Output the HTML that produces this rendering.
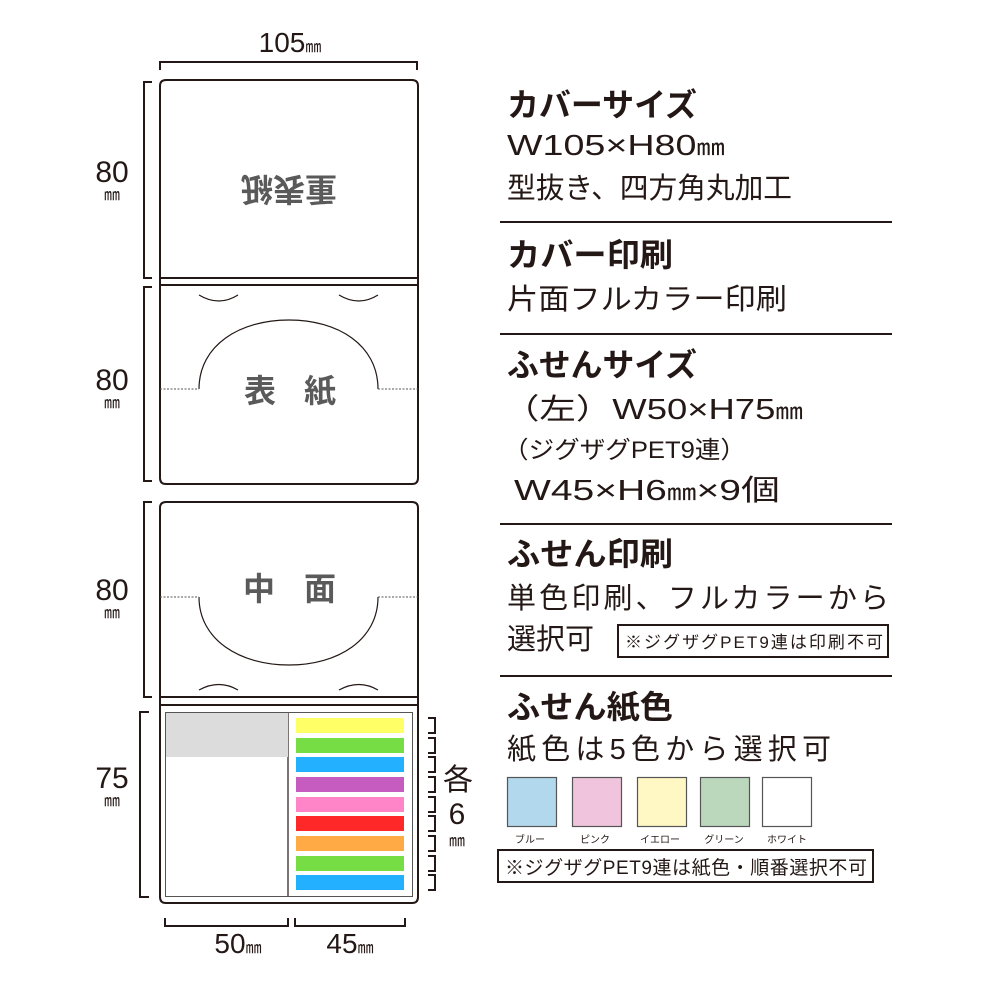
<!DOCTYPE html>
<html><head><meta charset="utf-8"><style>
html,body{margin:0;padding:0;background:#fff}
svg{display:block}
text{font-family:"Liberation Sans","Noto Sans CJK JP",sans-serif;fill:#231815}
.h{font-size:32px;font-weight:bold}
.b{font-size:29px}
.g{fill:#5a5a5a;font-weight:bold;font-size:32px}
</style></head><body>
<svg width="1000" height="1000" viewBox="0 0 1000 1000" xmlns="http://www.w3.org/2000/svg">
<g fill="none" stroke="#231815" stroke-width="2">
<path d="M160 70 V62 H417 V70"/>
<path d="M160 278 V86 Q160 80 166 80 H412 Q418 80 418 86 V278"/>
<path d="M160 278 H418 M160 285 H418"/>
<path d="M160 278 V478 Q160 484 166 484 H412 Q418 484 418 478 V278"/>
<path d="M160 697 V508 Q160 502 166 502 H412 Q418 502 418 508 V697"/>
<path d="M160 697 H418 M160 705 H418"/>
<path d="M160 697 V897 Q160 903 166 903 H412 Q418 903 418 897 V697"/>
<path d="M152 82 H144 V278 H152"/>
<path d="M152 287 H144 V481 H152"/>
<path d="M152 502 H144 V697 H152"/>
<path d="M149 712 H140 V897 H149"/>
<path d="M165 918 V926 H288 V918"/>
<path d="M295 918 V926 H405 V918"/>
</g>
<g fill="none" stroke="#231815" stroke-width="1.2">
<path d="M199 295 Q219 307 238 295"/><path d="M339 295 Q359 307 378 295"/>
<path d="M199 389 C199 345 240 320 289 320 C338 320 378 345 378 389"/>
<path d="M199 597 C199 640 240 665 289 665 C338 665 378 640 378 597"/>
<path d="M199 690 Q219 679 238 690"/><path d="M339 690 Q359 679 378 690"/>
<path d="M288 713 V896"/>
</g>
<g stroke="#555" stroke-width="1" stroke-dasharray="2,1.5">
<path d="M160 389 H199 M378 389 H418 M160 597 H199 M378 597 H418"/>
</g>
<rect x="165.5" y="712.5" width="247" height="184" fill="none" stroke="#555" stroke-width="1"/>
<rect x="166" y="713" width="122" height="44" fill="#dcdcdc"/>
<g>
<rect x="296" y="718" width="108" height="15" fill="#ffff66"/>
<rect x="296" y="738" width="108" height="15" fill="#77dd44"/>
<rect x="296" y="757" width="108" height="15" fill="#22b0ff"/>
<rect x="296" y="777" width="108" height="15" fill="#c65cc0"/>
<rect x="296" y="797" width="108" height="15" fill="#ff84c8"/>
<rect x="296" y="816" width="108" height="15" fill="#ff2828"/>
<rect x="296" y="836" width="108" height="15" fill="#ffaa44"/>
<rect x="296" y="856" width="108" height="15" fill="#77dd44"/>
<rect x="296" y="875" width="108" height="15" fill="#22b0ff"/>
</g>
<g fill="none" stroke="#231815" stroke-width="2">
<path d="M428 718 H435 V733 H428 M428 738 H435 V753 H428 M428 757 H435 V772 H428 M428 777 H435 V792 H428 M428 797 H435 V812 H428 M428 816 H435 V831 H428 M428 836 H435 V851 H428 M428 856 H435 V871 H428 M428 875 H435 V890 H428"/>
</g>
<text class="g" x="289" y="178" text-anchor="middle" transform="rotate(180 289 178)">重表紙</text>
<text class="g" x="260" y="402" text-anchor="middle">表</text>
<text class="g" x="320" y="402" text-anchor="middle">紙</text>
<text class="g" x="259" y="600" text-anchor="middle">中</text>
<text class="g" x="320" y="600" text-anchor="middle">面</text>
<text x="290" y="52" text-anchor="middle" font-size="28">105<tspan font-size="16">㎜</tspan></text>
<g font-size="30" text-anchor="middle">
<text x="112" y="182">80</text><text x="112" y="200" font-size="16">㎜</text>
<text x="112" y="390">80</text><text x="112" y="408" font-size="16">㎜</text>
<text x="112" y="600">80</text><text x="112" y="618" font-size="16">㎜</text>
<text x="112" y="788">75</text><text x="112" y="806" font-size="16">㎜</text>
<text x="458" y="790">各</text><text x="457" y="824">6</text><text x="457" y="846" font-size="16">㎜</text>
</g>
<text x="238" y="953" text-anchor="middle" font-size="28">50<tspan font-size="16">㎜</tspan></text>
<text x="350" y="953" text-anchor="middle" font-size="28">45<tspan font-size="16">㎜</tspan></text>
<g stroke="#231815" stroke-width="2"><path d="M500 222 H892 M500 334 H892 M500 524 H892 M500 676 H892"/></g>
<text class="h" x="507" y="116" textLength="190" lengthAdjust="spacingAndGlyphs">カバーサイズ</text>
<text class="b" x="507" y="155" textLength="218" lengthAdjust="spacingAndGlyphs">W105×H80<tspan font-size="22">㎜</tspan></text>
<text class="b" x="507" y="198" textLength="285" lengthAdjust="spacingAndGlyphs">型抜き、四方角丸加工</text>
<text class="h" x="507" y="266" textLength="166" lengthAdjust="spacingAndGlyphs">カバー印刷</text>
<text class="b" x="507" y="309" textLength="280" lengthAdjust="spacingAndGlyphs">片面フルカラー印刷</text>
<text class="h" x="507" y="376" textLength="190" lengthAdjust="spacingAndGlyphs">ふせんサイズ</text>
<text class="b" x="503" y="419" textLength="300" lengthAdjust="spacingAndGlyphs">（左）W50×H75<tspan font-size="22">㎜</tspan></text>
<text x="503" y="458" font-size="24" textLength="243" lengthAdjust="spacingAndGlyphs">（ジグザグPET9連）</text>
<text class="b" x="514" y="500" textLength="266" lengthAdjust="spacingAndGlyphs">W45×H6<tspan font-size="22">㎜</tspan>×9個</text>
<text class="h" x="507" y="565" textLength="166" lengthAdjust="spacingAndGlyphs">ふせん印刷</text>
<text class="b" x="507" y="608" textLength="382">単色印刷、フルカラーから</text>
<text class="b" x="507" y="649">選択可</text>
<rect x="618" y="625" width="270" height="32" fill="none" stroke="#231815" stroke-width="2"/>
<text x="625" y="648" font-size="17" textLength="258">※ジグザグPET9連は印刷不可</text>
<text class="h" x="507" y="718" textLength="166" lengthAdjust="spacingAndGlyphs">ふせん紙色</text>
<text class="b" x="507" y="759" textLength="324">紙色は5色から選択可</text>
<g stroke="#555" stroke-width="1.2">
<rect x="507.5" y="777.5" width="49" height="49" fill="#b2d8ee"/>
<rect x="572.5" y="777.5" width="49" height="49" fill="#efc4dc"/>
<rect x="637.5" y="777.5" width="49" height="49" fill="#fff7c4"/>
<rect x="700.5" y="777.5" width="49" height="49" fill="#bcd8bc"/>
<rect x="762.5" y="777.5" width="49" height="49" fill="#fff"/>
</g>
<g font-size="10" text-anchor="middle">
<text x="530" y="843">ブルー</text><text x="595" y="843">ピンク</text><text x="660" y="843">イエロー</text><text x="724" y="843">グリーン</text><text x="787" y="843">ホワイト</text>
</g>
<rect x="498" y="850" width="375" height="32" fill="none" stroke="#231815" stroke-width="2"/>
<text x="505" y="874" font-size="19" textLength="362">※ジグザグPET9連は紙色・順番選択不可</text>
</svg>
</body></html>
